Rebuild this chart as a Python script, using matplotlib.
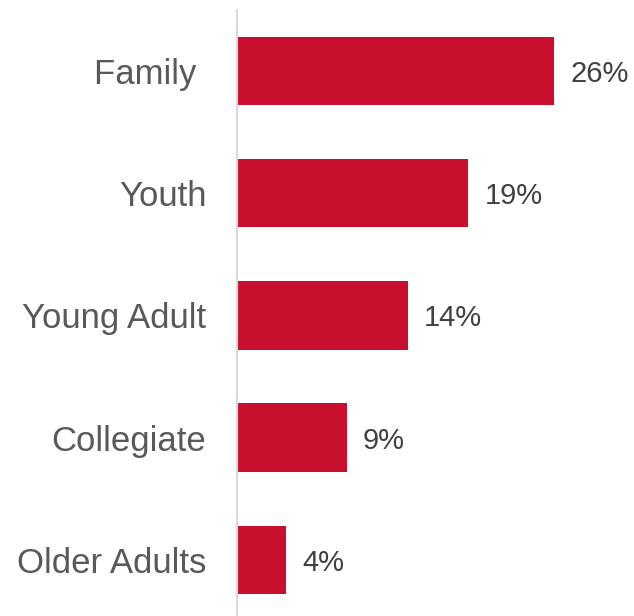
import matplotlib.pyplot as plt

categories = ["Family ", "Youth", "Young Adult", "Collegiate", "Older Adults"]
shares = [26, 19, 14, 9, 4]
value_labels = ["26%", "19%", "14%", "9%", "4%"]

plt.rcParams["font.family"] = ["Liberation Sans", "DejaVu Sans"]

fig = plt.figure(figsize=(6.34, 6.16), dpi=100)
ax = fig.add_axes([0.3738, 0.0, 0.615, 0.9838])

pos = range(len(categories))
ax.barh(pos, shares, height=0.56, color="#C8102E")

for p, v, lab in zip(pos, shares, value_labels):
    ax.text(v + 1.35, p, lab, va="center_baseline", ha="left", fontsize=21, color="#404040")

ax.set_ylim(4.46, -0.5)
ax.set_xlim(0, 32)
ax.set_yticks(list(pos))
ax.set_yticklabels(categories, fontsize=25, color="#595959")
ax.tick_params(axis="y", length=0, pad=22)
ax.set_xticks([])

for s in ["top", "right", "bottom"]:
    ax.spines[s].set_visible(False)
ax.spines["left"].set_color("#d9d9d9")
ax.spines["left"].set_linewidth(1.5)

fig.savefig("out.png", dpi=100)
plt.close(fig)
